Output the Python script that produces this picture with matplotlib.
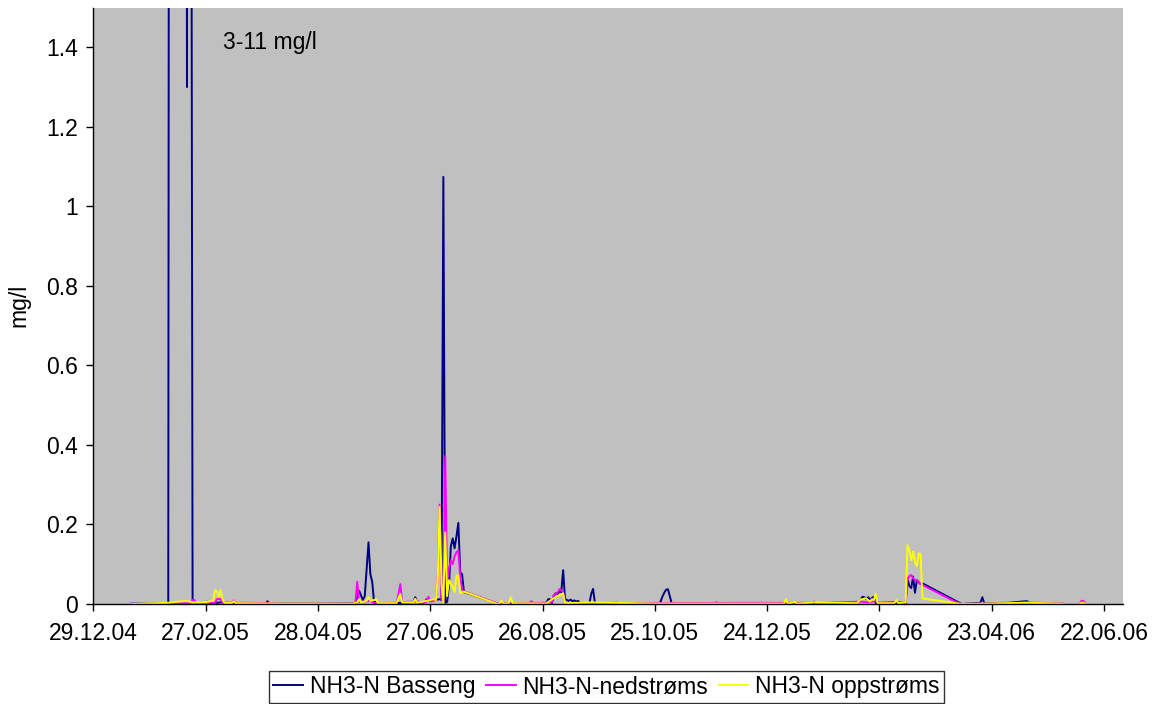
import numpy as np
import pandas as pd
import matplotlib
matplotlib.use("Agg")
import matplotlib.pyplot as plt

plt.rcParams['font.family'] = ['Liberation Sans', 'DejaVu Sans']

# ---------------- data ----------------
basseng_dates = [
    "18.01.05", "28.01.05", "07.02.05", "08.02.05", "12.02.05", "16.02.05", "17.02.05",
    "18.02.05", "19.02.05", "20.02.05", "23.02.05", "28.02.05", "02.03.05", "07.03.05",
    "14.03.05", "31.03.05", "01.04.05", "02.04.05", "28.04.05", "18.05.05", "20.05.05",
    "22.05.05", "23.05.05", "25.05.05", "26.05.05", "27.05.05", "28.05.05", "29.05.05",
    "30.05.05", "18.06.05", "19.06.05", "20.06.05", "24.06.05", "25.06.05", "27.06.05",
    "29.06.05", "02.07.05", "03.07.05", "04.07.05", "05.07.05", "06.07.05", "07.07.05",
    "08.07.05", "09.07.05", "10.07.05", "11.07.05", "12.07.05", "13.07.05", "14.07.05",
    "15.07.05", "02.08.05", "16.08.05", "28.08.05", "29.08.05", "30.08.05", "31.08.05",
    "01.09.05", "02.09.05", "03.09.05", "04.09.05", "05.09.05", "06.09.05", "07.09.05",
    "08.09.05", "09.09.05", "10.09.05", "11.09.05", "12.09.05", "13.09.05", "14.09.05",
    "15.09.05", "20.09.05", "21.09.05", "22.09.05", "23.09.05", "05.10.05", "10.10.05",
    "27.10.05", "28.10.05", "29.10.05", "30.10.05", "31.10.05", "01.11.05", "02.11.05",
    "03.11.05", "26.11.05", "27.11.05", "28.11.05", "03.01.06", "10.02.06", "12.02.06",
    "13.02.06", "14.02.06", "15.02.06", "16.02.06", "17.02.06", "18.02.06", "19.02.06",
    "20.02.06", "08.03.06", "09.03.06", "10.03.06", "11.03.06", "12.03.06", "13.03.06",
    "14.03.06", "15.03.06", "16.03.06", "17.03.06", "07.04.06", "17.04.06", "18.04.06",
    "19.04.06", "02.05.06", "11.05.06", "12.05.06", "13.05.06", "31.05.06",
]
basseng_values = [
    0.001, 0.001, 0.002, 6.0, 8.5, 5.0, 1.30,
    4.5, 3.0, 0.005, 0.002, 0.006, 0.002, 0.004,
    0.002, 0.001, 0.007, 0.001, 0.001, 0.002, 0.033,
    0.010, 0.020, 0.155, 0.075, 0.055, 0.003, 0.006,
    0.001, 0.004, 0.017, 0.003, 0.004, 0.012, 0.008,
    0.010, 0.012, 0.010, 1.074, 0.003, 0.005, 0.045,
    0.145, 0.165, 0.140, 0.170, 0.204, 0.080, 0.075,
    0.030, 0.001, 0.002, 0.002, 0.012, 0.012, 0.002,
    0.020, 0.027, 0.025, 0.031, 0.030, 0.085, 0.013,
    0.010, 0.008, 0.011, 0.007, 0.009, 0.006, 0.008,
    0.001, 0.001, 0.025, 0.038, 0.002, 0.003, 0.001,
    0.001, 0.005, 0.018, 0.028, 0.036, 0.037, 0.020,
    0.001, 0.001, 0.004, 0.001, 0.001, 0.002, 0.012,
    0.018, 0.017, 0.012, 0.017, 0.010, 0.015, 0.018,
    0.003, 0.002, 0.065, 0.045, 0.040, 0.069, 0.028,
    0.060, 0.055, 0.050, 0.052, 0.000, 0.003, 0.017,
    0.002, 0.003, 0.007, 0.007, 0.002, 0.001,
]

ned_dates = [
    "18.01.05", "07.02.05", "17.02.05", "19.02.05", "20.02.05", "21.02.05", "22.02.05",
    "27.02.05", "04.03.05", "05.03.05", "06.03.05", "07.03.05", "08.03.05", "13.03.05",
    "14.03.05", "15.03.05", "24.03.05", "08.04.05", "17.05.05", "18.05.05", "19.05.05",
    "20.05.05", "23.05.05", "26.05.05", "28.05.05", "09.06.05", "10.06.05", "11.06.05",
    "12.06.05", "19.06.05", "25.06.05", "26.06.05", "27.06.05", "29.06.05", "30.06.05",
    "01.07.05", "02.07.05", "03.07.05", "04.07.05", "05.07.05", "06.07.05", "07.07.05",
    "08.07.05", "09.07.05", "10.07.05", "11.07.05", "12.07.05", "13.07.05", "14.07.05",
    "15.07.05", "02.08.05", "19.08.05", "20.08.05", "21.08.05", "31.08.05", "01.09.05",
    "02.09.05", "03.09.05", "04.09.05", "05.09.05", "06.09.05", "07.09.05", "25.10.05",
    "14.12.05", "17.01.06", "18.01.06", "19.01.06", "28.01.06", "07.02.06", "12.02.06",
    "16.02.06", "20.02.06", "22.02.06", "03.03.06", "08.03.06", "09.03.06", "10.03.06",
    "11.03.06", "12.03.06", "13.03.06", "14.03.06", "15.03.06", "16.03.06", "17.03.06",
    "06.04.06", "03.05.06", "11.05.06", "31.05.06", "04.06.06", "09.06.06", "10.06.06",
    "11.06.06", "12.06.06",
]
ned_values = [
    0.000, 0.001, 0.002, 0.002, 0.010, 0.010, 0.002,
    0.003, 0.003, 0.012, 0.013, 0.012, 0.003, 0.003,
    0.009, 0.003, 0.003, 0.001, 0.001, 0.005, 0.056,
    0.005, 0.006, 0.008, 0.002, 0.003, 0.025, 0.050,
    0.005, 0.006, 0.005, 0.018, 0.006, 0.008, 0.012,
    0.065, 0.250, 0.010, 0.005, 0.372, 0.055, 0.090,
    0.110, 0.100, 0.120, 0.130, 0.135, 0.070, 0.035,
    0.032, 0.001, 0.002, 0.007, 0.002, 0.004, 0.023,
    0.025, 0.028, 0.037, 0.035, 0.030, 0.002, 0.002,
    0.003, 0.003, 0.006, 0.002, 0.004, 0.005, 0.006,
    0.004, 0.008, 0.003, 0.006, 0.003, 0.060, 0.070,
    0.073, 0.065, 0.060, 0.060, 0.055, 0.050, 0.048,
    0.000, 0.002, 0.004, 0.001, np.nan, 0.002, 0.008,
    0.008, 0.002,
]

opp_dates = [
    "18.01.05", "07.02.05", "12.02.05", "17.02.05", "19.02.05", "22.02.05", "27.02.05",
    "03.03.05", "04.03.05", "05.03.05", "06.03.05", "07.03.05", "08.03.05", "09.03.05",
    "13.03.05", "14.03.05", "15.03.05", "08.04.05", "17.05.05", "19.05.05", "20.05.05",
    "21.05.05", "24.05.05", "25.05.05", "26.05.05", "28.05.05", "29.05.05", "30.05.05",
    "09.06.05", "10.06.05", "11.06.05", "12.06.05", "18.06.05", "19.06.05", "20.06.05",
    "25.06.05", "27.06.05", "29.06.05", "30.06.05", "01.07.05", "02.07.05", "03.07.05",
    "04.07.05", "05.07.05", "06.07.05", "07.07.05", "08.07.05", "09.07.05", "10.07.05",
    "11.07.05", "12.07.05", "13.07.05", "14.07.05", "15.07.05", "02.08.05", "03.08.05",
    "04.08.05", "05.08.05", "08.08.05", "09.08.05", "10.08.05", "28.08.05", "30.08.05",
    "01.09.05", "03.09.05", "05.09.05", "06.09.05", "07.09.05", "21.09.05", "25.10.05",
    "02.01.06", "03.01.06", "04.01.06", "08.01.06", "09.01.06", "18.01.06", "10.02.06",
    "12.02.06", "13.02.06", "14.02.06", "15.02.06", "16.02.06", "17.02.06", "18.02.06",
    "19.02.06", "20.02.06", "21.02.06", "02.03.06", "03.03.06", "04.03.06", "08.03.06",
    "09.03.06", "10.03.06", "11.03.06", "12.03.06", "13.03.06", "14.03.06", "15.03.06",
    "16.03.06", "17.03.06", "07.04.06", "11.05.06", "31.05.06", "04.06.06", "09.06.06",
    "10.06.06", "11.06.06", "12.06.06",
]
opp_values = [
    0.000, 0.003, 0.006, 0.008, 0.005, 0.004, 0.005,
    0.008, 0.035, 0.032, 0.018, 0.035, 0.012, 0.003,
    0.002, 0.007, 0.002, 0.001, 0.001, 0.005, 0.012,
    0.004, 0.008, 0.017, 0.008, 0.010, 0.012, 0.002,
    0.002, 0.015, 0.025, 0.004, 0.004, 0.013, 0.003,
    0.008, 0.010, 0.012, 0.010, 0.065, 0.244, 0.050,
    0.003, 0.180, 0.020, 0.060, 0.050, 0.043, 0.030,
    0.070, 0.072, 0.027, 0.030, 0.031, 0.000, 0.002,
    0.008, 0.001, 0.002, 0.017, 0.002, 0.001, 0.008,
    0.015, 0.020, 0.024, 0.027, 0.002, 0.004, 0.001,
    0.001, 0.012, 0.001, 0.005, 0.001, 0.004, 0.002,
    0.012, 0.012, 0.014, 0.014, 0.010, 0.006, 0.012,
    0.010, 0.025, 0.002, 0.002, 0.010, 0.002, 0.004,
    0.148, 0.135, 0.110, 0.132, 0.105, 0.095, 0.127,
    0.125, 0.014, 0.000, 0.003, 0.001, np.nan, 0.001,
    0.003, 0.003, 0.001,
]

series_names = ["NH3-N Basseng", "NH3-N-nedstrøms", "NH3-N oppstrøms"]
series_colors = ["#000080", "#FF00FF", "#FFFF00"]
x_tick_labels = ["29.12.04", "27.02.05", "28.04.05", "27.06.05", "26.08.05",
                 "25.10.05", "24.12.05", "22.02.06", "23.04.06", "22.06.06"]
y_ticks = [0, 0.2, 0.4, 0.6, 0.8, 1.0, 1.2, 1.4]
y_tick_labels = ["0", "0.2", "0.4", "0.6", "0.8", "1", "1.2", "1.4"]
annotation = "3-11 mg/l"
y_label = "mg/l"

FS = 16.5


def to_dt(lst):
    return pd.to_datetime(lst, format="%d.%m.%y")


fig = plt.figure(figsize=(11.57, 7.04), dpi=100)
ax = fig.add_axes([93.4 / 1157, 1 - 604 / 704, (1122.7 - 93.4) / 1157, (604 - 7.5) / 704])
ax.set_facecolor("#C0C0C0")

all_series = [(basseng_dates, basseng_values), (ned_dates, ned_values), (opp_dates, opp_values)]
for (d, v), name, col in zip(all_series, series_names, series_colors):
    ax.plot(to_dt(d), v, color=col, lw=1.4, label=name, solid_joinstyle="round")

start = pd.to_datetime("29.12.04", format="%d.%m.%y")
ax.set_xlim(start, start + pd.Timedelta(days=550))
ax.set_ylim(0, 1.5)

ax.set_xticks(to_dt(x_tick_labels))
ax.set_xticklabels(x_tick_labels)
ax.set_yticks(y_ticks)
ax.set_yticklabels(y_tick_labels)

for s in ["top", "right"]:
    ax.spines[s].set_visible(False)
for s in ["left", "bottom"]:
    ax.spines[s].set_color("black")
    ax.spines[s].set_linewidth(1.0)

ax.tick_params(axis="x", direction="out", length=5, width=1, pad=8, labelsize=FS)
ax.tick_params(axis="y", direction="out", length=5, width=1, pad=6, labelsize=FS)

ax.set_ylabel(y_label, fontsize=FS)
ax.yaxis.set_label_coords(-0.0616, 0.5)
ax.text(start + pd.Timedelta(days=69.4), 1.412, annotation, fontsize=FS, va="center", ha="left")

leg = fig.legend(loc="center", bbox_to_anchor=(606.5 / 1157, 1 - 687 / 704), ncol=3,
                 frameon=True, fancybox=False, fontsize=FS, handlelength=1.3,
                 handletextpad=0.3, columnspacing=0.45, borderpad=0.2, borderaxespad=0)
leg.get_frame().set_edgecolor("black")
leg.get_frame().set_linewidth(1.0)

fig.savefig("out.png", dpi=100)
